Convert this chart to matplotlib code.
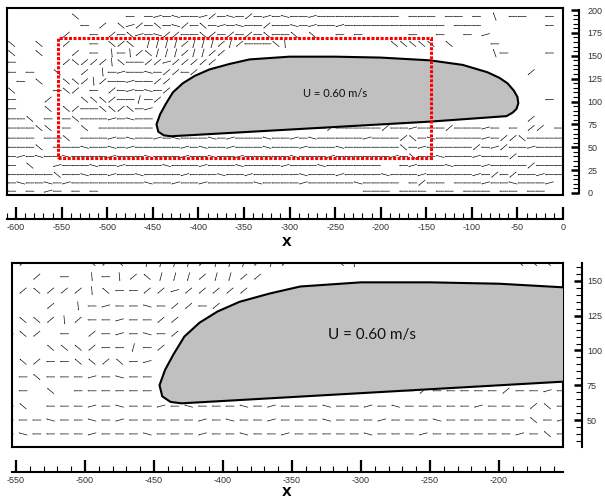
import numpy as np
import matplotlib.pyplot as plt
from matplotlib.path import Path
from matplotlib.patches import Polygon, Rectangle
from matplotlib.ticker import MultipleLocator

plt.rcParams['axes.unicode_minus'] = False

W, H = 605, 501

# outline of the body (x, y)
body_x = [-446, -444, -438, -430, -288, -146, -62, -55, -51, -49, -50, -54, -61, -70, -83,
          -110, -146, -200, -250, -300, -344, -366, -388, -404, -417, -428, -436, -442]
body_y = [75, 67, 63, 62, 70, 78, 84, 88, 92, 98, 105, 112, 120, 126, 132,
          140, 145, 148, 149, 149, 146, 141, 135, 128, 120, 110, 97, 86]

# velocity field, one char per grid point (x = -605 + 10*i)
# '-' 0deg, '^' +15, 'v' -15, '/' +40, 'N' -40, 'I' +75, '|' 95, 'Y' -70
row_y = [193, 183, 173, 163, 153, 143, 132, 122, 112, 102, 92, 81, 71, 60, 50, 40, 30, 20, 11, 2]
rows = [
    "       N  " "   - -^-v-" "-^/-v-/-^-" "v--^------" "--- --- --" " - Y --  -" " ",
    "        - " "/ N^/-N-v/" "-N-^-v--/-" "-v-^--^---" "-------- -" "--       -" " ",
    "      /  -" " /-N^-v//-" "-N/-/-/-N-" "-N N  - - " "    -  -  " "- ^       " " ",
    "N  N  /  -" " N/N IIII/" "III/I/---N" "|         " "  NNNNN N " "   -      " " ",
    "N  N   / -" " |-|/NIII/" "II//      " + " " * 20 + "   Y-    -" " ",
    "-     /N//" "/|N--//^//" "///       " + " " * 30 + " ",
    "- -  N  / " "|-^--v-//-" "/         " + " " * 20 + "       /  " " ",
    " - N  NN/|" "/--^--//  " + " " * 40 + " ",
    "N    -N/ -" " /-^-v-/  " + " " * 40 + " ",
    "-   /   NN" "N/--I-/   " + " " * 30 + "         -" " ",
    "-   N N/--" "NN/N-^    " + " " * 40 + " ",
    "--N - -N--" "-^-v--    " + " " * 30 + "       /  " " ",
    "---NN - N " "------    " + " " * 10 + "   --/----" "-/--^---/-" "--^- - // " "-",
    "--- --N --" "-^-v--^-v-" "--v-^---v-" "-^-v-----^" "---/N-v---" "--^-//N---" "-",
    "---N ---v-" "-v-^-----^" "-v--^---v-" "--^---v---" "---N-^----" "-/-^/--^--" "-",
    "-^-v--v---" "-^---v---^" "--v--^----" "-v---^----" "--^-N--v--" "-^---/----" "-",
    "- N  ^---v" "--^----v--" "-^---v----" "^---v-----" "-  -^---v-" "--^----/--" "-",
    "-----N--v-" "-^--v----^" "---v--^---" "--v---^---" "-v---^----" "-^-/-/--^-" "-",
    "-v--v-^---" "-----v--^-" "-^-----v--" "--^-----v-" "--- -/-- -" "--^--v---^" " ",
    "- - ^- - -" + " " * 20 + "         -" "-- --- -- " "--- -- -- " " ",
]
col_x0, col_dx = -605, 10
sym_angle = {'-': 0, '^': 15, 'v': -15, '/': 40, 'N': -40, 'I': 75, '|': 95, 'Y': -70}

xs, ys, ang = [], [], []
for y, row in zip(row_y, rows):
    for i, ch in enumerate(row.ljust(61)[:61]):
        if ch in sym_angle:
            xs.append(col_x0 + col_dx * i)
            ys.append(y)
            ang.append(sym_angle[ch])
xs, ys, ang = np.array(xs), np.array(ys), np.radians(ang)
body = Path(np.column_stack([body_x, body_y]))
keep = ~body.contains_points(np.column_stack([xs, ys]), radius=-4)
xs, ys, ang = xs[keep], ys[keep], ang[keep]

fig = plt.figure(figsize=(W / 100, H / 100), dpi=100)


def add_box(l, t, r, b):
    # pixel edges -> figure fraction
    return fig.add_axes([l / W, 1 - b / H, (r - l) / W, (b - t) / H])


def field_panel(ax, xlim, ylim, vec_px, label_size, label_xy):
    ax.set_xlim(*xlim)
    ax.set_ylim(*ylim)
    ax.set_xticks([])
    ax.set_yticks([])
    for s in ax.spines.values():
        s.set_linewidth(1.5)
    ax.quiver(xs, ys, -np.cos(ang), -np.sin(ang), angles='uv', pivot='middle',
              units='inches', scale_units='inches', scale=100 / vec_px,
              width=0.0065, headwidth=2.2, headlength=2.4, headaxislength=2.1,
              color='black', zorder=2)
    ax.add_patch(Polygon(np.column_stack([body_x, body_y]), closed=True,
                         facecolor='#c0c0c0', edgecolor='black', lw=1.5, zorder=3))
    ax.text(label_xy[0], label_xy[1], 'U = 0.60 m/s', ha='center', va='center',
            fontsize=label_size, family=['Lato', 'DejaVu Sans'], color='#111111', zorder=4)


def x_strip(l, r, yline, xlim, major):
    ax = add_box(l, yline - 1, r, yline)
    ax.set_xlim(*xlim)
    ax.patch.set_visible(False)
    for k in ('top', 'left', 'right'):
        ax.spines[k].set_visible(False)
    ax.spines['bottom'].set_linewidth(1.5)
    ax.set_yticks([])
    ax.xaxis.set_major_locator(MultipleLocator(major))
    ax.xaxis.set_minor_locator(MultipleLocator(10))
    ax.tick_params(axis='x', which='major', direction='in', length=9, width=1.6,
                   pad=3, labelsize=6.5, labelcolor='#333333')
    ax.tick_params(axis='x', which='minor', direction='in', length=4.5, width=0.8)
    for t in ax.get_xticklabels():
        t.set_family(['Liberation Sans Narrow', 'Liberation Sans'])
    return ax


def y_strip(xline, t, b, ylim, bounds, pad):
    ax = add_box(xline - 1, t, xline, b)
    ax.set_ylim(*ylim)
    ax.patch.set_visible(False)
    for k in ('top', 'left', 'bottom'):
        ax.spines[k].set_visible(False)
    ax.spines['right'].set_linewidth(1.5)
    if bounds:
        ax.spines['right'].set_bounds(*bounds)
    ax.set_xticks([])
    ax.yaxis.tick_right()
    ax.yaxis.set_major_locator(MultipleLocator(25))
    ax.yaxis.set_minor_locator(MultipleLocator(5))
    ax.tick_params(axis='y', which='major', direction='in', length=6, width=1.8,
                   pad=pad, labelsize=6.5, labelcolor='#333333')
    ax.tick_params(axis='y', which='minor', direction='in', length=4, width=0.8)
    for t in ax.get_yticklabels():
        t.set_family(['Liberation Sans Narrow', 'Liberation Sans'])
    return ax


# upper panel: whole field
top_xlim, top_ylim = (-610, 0), (-2.2, 202.2)
ax1 = add_box(7, 8, 563, 195)
field_panel(ax1, top_xlim, top_ylim, 9, 8, (-250, 109))
ax1.add_patch(Rectangle((-553.7, 38.3), 409, 131.1, fill=False, edgecolor='#ff0000',
                        lw=2.2, linestyle=(0, (1, 0.5)), zorder=5))
x_strip(7, 563, 219, top_xlim, 50)
y_strip(579, 8, 195, top_ylim, (0, 200), 6)
fig.text(287 / W, 1 - 243 / H, 'X', ha='center', va='center', fontsize=9, weight='bold')

# lower panel: zoom on the red box
bot_xlim, bot_ylim = (-552.9, -153.6), (30.6, 162.9)
ax2 = add_box(12, 263, 563, 447)
field_panel(ax2, bot_xlim, bot_ylim, 9, 11, (-292, 111))
x_strip(12, 563, 472, bot_xlim, 50)
y_strip(582, 263, 447, bot_ylim, None, 3.5)
fig.text(287 / W, 1 - 493 / H, 'X', ha='center', va='center', fontsize=9, weight='bold')

fig.savefig('out.png', dpi=100)
